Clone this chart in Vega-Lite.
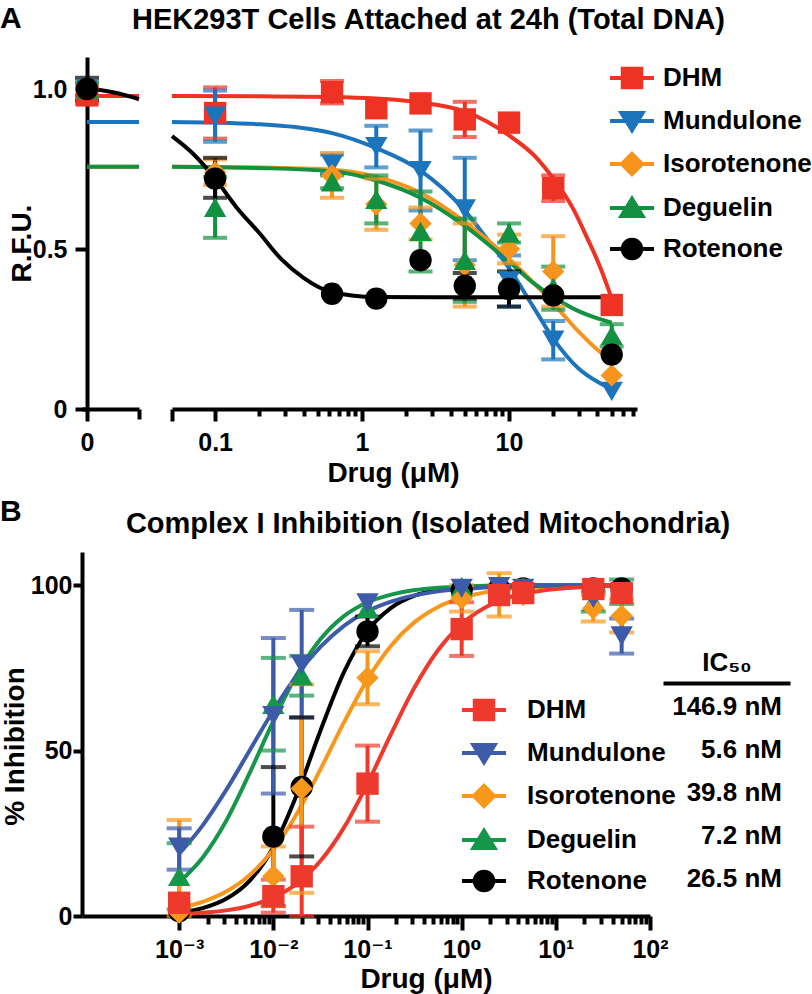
{
"$schema": "https://vega.github.io/schema/vega-lite/v6.json",
"autosize": {"type": "none"},
"padding": {"left": 82, "top": 57, "right": 730, "bottom": 937},
"background": "white",
"config": {
  "view": {"stroke": null},
  "font": "Liberation Sans",
  "axis": {"domainColor": "black", "domainWidth": 4, "tickColor": "black", "tickWidth": 4, "labelFont": "Liberation Sans, DejaVu Sans", "labelFontSize": 25, "labelFontWeight": "bold", "labelColor": "black", "titleFont": "Liberation Sans", "titleFontSize": 28, "titleFontWeight": "bold", "titleColor": "black", "grid": false, "labelFlush": false, "labelOverlap": false},
  "title": {"font": "Liberation Sans", "fontSize": 29, "fontWeight": "bold", "color": "black"}
},
"datasets": {
  "ptsA": [
    {"drug":"DHM","conc":0,"y":0.98,"lo":0.955,"hi":1.005},
    {"drug":"Mundulone","conc":0,"y":1.0,"lo":0.98,"hi":1.02},
    {"drug":"Isorotenone","conc":0,"y":1.0,"lo":0.98,"hi":1.02},
    {"drug":"Deguelin","conc":0,"y":1.0,"lo":0.98,"hi":1.02},
    {"drug":"Rotenone","conc":0,"y":1.0,"lo":0.965,"hi":1.035},
    {"drug":"DHM","conc":0.1,"y":0.925,"lo":0.845,"hi":1.005},
    {"drug":"Mundulone","conc":0.1,"y":0.915,"lo":0.835,"hi":0.995},
    {"drug":"Isorotenone","conc":0.1,"y":0.74,"lo":0.70,"hi":0.78},
    {"drug":"Deguelin","conc":0.1,"y":0.63,"lo":0.535,"hi":0.725},
    {"drug":"Rotenone","conc":0.1,"y":0.72,"lo":0.66,"hi":0.785},
    {"drug":"DHM","conc":0.625,"y":0.99,"lo":0.955,"hi":1.025},
    {"drug":"Mundulone","conc":0.625,"y":0.765,"lo":0.735,"hi":0.795},
    {"drug":"Isorotenone","conc":0.625,"y":0.73,"lo":0.66,"hi":0.80},
    {"drug":"Deguelin","conc":0.625,"y":0.71,"lo":0.69,"hi":0.73},
    {"drug":"Rotenone","conc":0.625,"y":0.36,"lo":0.36,"hi":0.36},
    {"drug":"DHM","conc":1.25,"y":0.94,"lo":0.94,"hi":0.94},
    {"drug":"Mundulone","conc":1.25,"y":0.82,"lo":0.755,"hi":0.885},
    {"drug":"Isorotenone","conc":1.25,"y":0.64,"lo":0.56,"hi":0.72},
    {"drug":"Deguelin","conc":1.25,"y":0.655,"lo":0.58,"hi":0.73},
    {"drug":"Rotenone","conc":1.25,"y":0.345,"lo":0.345,"hi":0.345},
    {"drug":"DHM","conc":2.5,"y":0.955,"lo":0.955,"hi":0.955},
    {"drug":"Mundulone","conc":2.5,"y":0.745,"lo":0.62,"hi":0.87},
    {"drug":"Isorotenone","conc":2.5,"y":0.58,"lo":0.53,"hi":0.63},
    {"drug":"Deguelin","conc":2.5,"y":0.555,"lo":0.43,"hi":0.68},
    {"drug":"Rotenone","conc":2.5,"y":0.465,"lo":0.465,"hi":0.465},
    {"drug":"DHM","conc":5,"y":0.905,"lo":0.85,"hi":0.96},
    {"drug":"Mundulone","conc":5,"y":0.625,"lo":0.465,"hi":0.785},
    {"drug":"Isorotenone","conc":5,"y":0.45,"lo":0.32,"hi":0.58},
    {"drug":"Deguelin","conc":5,"y":0.465,"lo":0.335,"hi":0.595},
    {"drug":"Rotenone","conc":5,"y":0.385,"lo":0.345,"hi":0.425},
    {"drug":"DHM","conc":10,"y":0.895,"lo":0.895,"hi":0.895},
    {"drug":"Mundulone","conc":10,"y":0.40,"lo":0.32,"hi":0.48},
    {"drug":"Isorotenone","conc":10,"y":0.50,"lo":0.455,"hi":0.545},
    {"drug":"Deguelin","conc":10,"y":0.55,"lo":0.52,"hi":0.58},
    {"drug":"Rotenone","conc":10,"y":0.375,"lo":0.32,"hi":0.43},
    {"drug":"DHM","conc":20,"y":0.69,"lo":0.65,"hi":0.73},
    {"drug":"Mundulone","conc":20,"y":0.215,"lo":0.155,"hi":0.275},
    {"drug":"Isorotenone","conc":20,"y":0.43,"lo":0.32,"hi":0.54},
    {"drug":"Deguelin","conc":20,"y":0.38,"lo":0.31,"hi":0.445},
    {"drug":"Rotenone","conc":20,"y":0.355,"lo":0.355,"hi":0.355},
    {"drug":"DHM","conc":50,"y":0.325,"lo":0.325,"hi":0.325},
    {"drug":"Mundulone","conc":50,"y":0.055,"lo":0.055,"hi":0.055},
    {"drug":"Isorotenone","conc":50,"y":0.105,"lo":0.105,"hi":0.105},
    {"drug":"Deguelin","conc":50,"y":0.23,"lo":0.195,"hi":0.265},
    {"drug":"Rotenone","conc":50,"y":0.17,"lo":0.17,"hi":0.17}
  ],
  "curveA0": [
    {"drug":"DHM","conc":0,"y":0.978},{"drug":"DHM","conc":0.05,"y":0.978},
    {"drug":"Mundulone","conc":0,"y":0.897},{"drug":"Mundulone","conc":0.05,"y":0.897},
    {"drug":"Isorotenone","conc":0,"y":0.757},{"drug":"Isorotenone","conc":0.05,"y":0.757},
    {"drug":"Deguelin","conc":0,"y":0.757},{"drug":"Deguelin","conc":0.05,"y":0.757},
    {"drug":"Rotenone","conc":0,"y":1.0},{"drug":"Rotenone","conc":0.0125,"y":0.997},{"drug":"Rotenone","conc":0.025,"y":0.99},{"drug":"Rotenone","conc":0.0375,"y":0.98},{"drug":"Rotenone","conc":0.05,"y":0.968}
  ],
  "curveA": [
    {"drug":"DHM","conc":0.0509,"y":0.978},{"drug":"DHM","conc":0.2,"y":0.977},{"drug":"DHM","conc":0.625,"y":0.975},{"drug":"DHM","conc":1.25,"y":0.97},{"drug":"DHM","conc":2.5,"y":0.958},{"drug":"DHM","conc":5,"y":0.93},{"drug":"DHM","conc":10,"y":0.855},{"drug":"DHM","conc":15,"y":0.79},{"drug":"DHM","conc":20,"y":0.72},{"drug":"DHM","conc":27,"y":0.63},{"drug":"DHM","conc":34,"y":0.535},{"drug":"DHM","conc":42,"y":0.44},{"drug":"DHM","conc":50,"y":0.345},
    {"drug":"Mundulone","conc":0.0509,"y":0.897},{"drug":"Mundulone","conc":0.1,"y":0.895},{"drug":"Mundulone","conc":0.2,"y":0.89},{"drug":"Mundulone","conc":0.35,"y":0.881},{"drug":"Mundulone","conc":0.625,"y":0.862},{"drug":"Mundulone","conc":1.25,"y":0.815},{"drug":"Mundulone","conc":2.5,"y":0.745},{"drug":"Mundulone","conc":5,"y":0.62},{"drug":"Mundulone","conc":7,"y":0.535},{"drug":"Mundulone","conc":10,"y":0.44},{"drug":"Mundulone","conc":14.6,"y":0.32},{"drug":"Mundulone","conc":20,"y":0.22},{"drug":"Mundulone","conc":30,"y":0.125},{"drug":"Mundulone","conc":40,"y":0.085},{"drug":"Mundulone","conc":50,"y":0.062},
    {"drug":"Isorotenone","conc":0.0509,"y":0.757},{"drug":"Isorotenone","conc":0.2,"y":0.755},{"drug":"Isorotenone","conc":0.625,"y":0.748},{"drug":"Isorotenone","conc":1.25,"y":0.726},{"drug":"Isorotenone","conc":2.5,"y":0.675},{"drug":"Isorotenone","conc":5,"y":0.585},{"drug":"Isorotenone","conc":10,"y":0.47},{"drug":"Isorotenone","conc":15,"y":0.39},{"drug":"Isorotenone","conc":20,"y":0.33},{"drug":"Isorotenone","conc":30,"y":0.24},{"drug":"Isorotenone","conc":40,"y":0.185},{"drug":"Isorotenone","conc":50,"y":0.15},
    {"drug":"Deguelin","conc":0.0509,"y":0.757},{"drug":"Deguelin","conc":0.2,"y":0.753},{"drug":"Deguelin","conc":0.625,"y":0.743},{"drug":"Deguelin","conc":1.25,"y":0.714},{"drug":"Deguelin","conc":2.5,"y":0.66},{"drug":"Deguelin","conc":5,"y":0.572},{"drug":"Deguelin","conc":10,"y":0.46},{"drug":"Deguelin","conc":15,"y":0.39},{"drug":"Deguelin","conc":20,"y":0.35},{"drug":"Deguelin","conc":30,"y":0.305},{"drug":"Deguelin","conc":40,"y":0.283},{"drug":"Deguelin","conc":50,"y":0.27},
    {"drug":"Rotenone","conc":0.0509,"y":0.853},{"drug":"Rotenone","conc":0.07,"y":0.80},{"drug":"Rotenone","conc":0.1,"y":0.72},{"drug":"Rotenone","conc":0.14,"y":0.63},{"drug":"Rotenone","conc":0.2,"y":0.55},{"drug":"Rotenone","conc":0.28,"y":0.47},{"drug":"Rotenone","conc":0.4,"y":0.41},{"drug":"Rotenone","conc":0.625,"y":0.365},{"drug":"Rotenone","conc":1.25,"y":0.35},{"drug":"Rotenone","conc":5,"y":0.349},{"drug":"Rotenone","conc":50,"y":0.349}
  ],
  "ptsB": [
    {"drug":"Rotenone","conc":0.001,"y":1.5,"lo":1.5,"hi":1.5},
    {"drug":"Deguelin","conc":0.001,"y":12,"lo":2,"hi":22},
    {"drug":"Isorotenone","conc":0.001,"y":1,"lo":0,"hi":29},
    {"drug":"Mundulone","conc":0.001,"y":20.8,"lo":14,"hi":26.5},
    {"drug":"DHM","conc":0.001,"y":4,"lo":4,"hi":4},
    {"drug":"Rotenone","conc":0.01,"y":24,"lo":3,"hi":45},
    {"drug":"Deguelin","conc":0.01,"y":64,"lo":50,"hi":78},
    {"drug":"Isorotenone","conc":0.01,"y":12,"lo":3,"hi":21},
    {"drug":"Mundulone","conc":0.01,"y":60.5,"lo":37,"hi":84},
    {"drug":"DHM","conc":0.01,"y":6,"lo":1,"hi":11},
    {"drug":"Rotenone","conc":0.02,"y":39,"lo":18,"hi":60},
    {"drug":"Deguelin","conc":0.02,"y":72.6,"lo":66.6,"hi":78.6},
    {"drug":"Isorotenone","conc":0.02,"y":38.5,"lo":7,"hi":70},
    {"drug":"Mundulone","conc":0.02,"y":76,"lo":60,"hi":92.5},
    {"drug":"DHM","conc":0.02,"y":12,"lo":0,"hi":27},
    {"drug":"Rotenone","conc":0.1,"y":86,"lo":81.5,"hi":90.5},
    {"drug":"Deguelin","conc":0.1,"y":93,"lo":93,"hi":93},
    {"drug":"Isorotenone","conc":0.1,"y":72,"lo":64,"hi":80},
    {"drug":"Mundulone","conc":0.1,"y":94.6,"lo":94.6,"hi":94.6},
    {"drug":"DHM","conc":0.1,"y":40,"lo":28.5,"hi":51.5},
    {"drug":"Rotenone","conc":1,"y":98.5,"lo":98.5,"hi":98.5},
    {"drug":"Deguelin","conc":1,"y":99.5,"lo":99.5,"hi":99.5},
    {"drug":"Isorotenone","conc":1,"y":96,"lo":92,"hi":100},
    {"drug":"Mundulone","conc":1,"y":99,"lo":99,"hi":99},
    {"drug":"DHM","conc":1,"y":86.7,"lo":78.6,"hi":94.8},
    {"drug":"Rotenone","conc":2.5,"y":99,"lo":99,"hi":99},
    {"drug":"Deguelin","conc":2.5,"y":99.5,"lo":99.5,"hi":99.5},
    {"drug":"Isorotenone","conc":2.5,"y":97,"lo":90.5,"hi":103.6},
    {"drug":"Mundulone","conc":2.5,"y":99.5,"lo":99.5,"hi":99.5},
    {"drug":"DHM","conc":2.5,"y":97,"lo":97,"hi":97},
    {"drug":"Rotenone","conc":4.5,"y":99,"lo":99,"hi":99},
    {"drug":"Deguelin","conc":4.5,"y":99.5,"lo":99.5,"hi":99.5},
    {"drug":"Isorotenone","conc":4.5,"y":97,"lo":97,"hi":97},
    {"drug":"Mundulone","conc":4.5,"y":99,"lo":99,"hi":99},
    {"drug":"DHM","conc":4.5,"y":97.6,"lo":97.6,"hi":97.6},
    {"drug":"Rotenone","conc":25,"y":99,"lo":99,"hi":99},
    {"drug":"Deguelin","conc":25,"y":95,"lo":92,"hi":98},
    {"drug":"Isorotenone","conc":25,"y":93,"lo":89,"hi":97},
    {"drug":"Mundulone","conc":25,"y":96,"lo":96,"hi":96},
    {"drug":"DHM","conc":25,"y":98.8,"lo":98.8,"hi":98.8},
    {"drug":"Rotenone","conc":50,"y":99,"lo":99,"hi":99},
    {"drug":"Deguelin","conc":50,"y":98,"lo":94.3,"hi":101.7},
    {"drug":"Isorotenone","conc":50,"y":90.7,"lo":85.7,"hi":95.7},
    {"drug":"Mundulone","conc":50,"y":84.6,"lo":79.3,"hi":89.9},
    {"drug":"DHM","conc":50,"y":97.6,"lo":97.6,"hi":97.6}
  ],
  "curveB": [
    {"drug":"Rotenone","conc":0.001,"y":1.1},{"drug":"Rotenone","conc":0.001778,"y":2.4},{"drug":"Rotenone","conc":0.003162,"y":5.2},{"drug":"Rotenone","conc":0.005623,"y":10.7},{"drug":"Rotenone","conc":0.01,"y":20.8},{"drug":"Rotenone","conc":0.01778,"y":36.7},{"drug":"Rotenone","conc":0.03162,"y":56.0},{"drug":"Rotenone","conc":0.05623,"y":73.7},{"drug":"Rotenone","conc":0.1,"y":86.1},{"drug":"Rotenone","conc":0.1778,"y":93.1},{"drug":"Rotenone","conc":0.3162,"y":96.8},{"drug":"Rotenone","conc":0.5623,"y":98.5},{"drug":"Rotenone","conc":1,"y":99.3},{"drug":"Rotenone","conc":1.778,"y":99.7},{"drug":"Rotenone","conc":3.162,"y":99.9},{"drug":"Rotenone","conc":10,"y":100},{"drug":"Rotenone","conc":50,"y":100},
    {"drug":"Deguelin","conc":0.001,"y":10.2},{"drug":"Deguelin","conc":0.001778,"y":17.7},{"drug":"Deguelin","conc":0.003162,"y":28.8},{"drug":"Deguelin","conc":0.005623,"y":43.3},{"drug":"Deguelin","conc":0.01,"y":58.9},{"drug":"Deguelin","conc":0.01778,"y":73.0},{"drug":"Deguelin","conc":0.03162,"y":83.6},{"drug":"Deguelin","conc":0.05623,"y":90.6},{"drug":"Deguelin","conc":0.1,"y":94.8},{"drug":"Deguelin","conc":0.1778,"y":97.1},{"drug":"Deguelin","conc":0.3162,"y":98.5},{"drug":"Deguelin","conc":0.5623,"y":99.2},{"drug":"Deguelin","conc":1,"y":99.6},{"drug":"Deguelin","conc":1.778,"y":99.8},{"drug":"Deguelin","conc":3.162,"y":99.9},{"drug":"Deguelin","conc":10,"y":100},{"drug":"Deguelin","conc":50,"y":100},
    {"drug":"Isorotenone","conc":0.001,"y":2.5},{"drug":"Isorotenone","conc":0.001778,"y":4.3},{"drug":"Isorotenone","conc":0.003162,"y":7.4},{"drug":"Isorotenone","conc":0.005623,"y":12.4},{"drug":"Isorotenone","conc":0.01,"y":20.1},{"drug":"Isorotenone","conc":0.01778,"y":30.9},{"drug":"Isorotenone","conc":0.03162,"y":44.3},{"drug":"Isorotenone","conc":0.05623,"y":58.5},{"drug":"Isorotenone","conc":0.1,"y":71.5},{"drug":"Isorotenone","conc":0.1778,"y":81.7},{"drug":"Isorotenone","conc":0.3162,"y":88.8},{"drug":"Isorotenone","conc":0.5623,"y":93.4},{"drug":"Isorotenone","conc":1,"y":96.2},{"drug":"Isorotenone","conc":1.778,"y":97.8},{"drug":"Isorotenone","conc":3.162,"y":98.8},{"drug":"Isorotenone","conc":10,"y":99.6},{"drug":"Isorotenone","conc":50,"y":99.9},
    {"drug":"Mundulone","conc":0.001,"y":18.8},{"drug":"Mundulone","conc":0.001778,"y":27.4},{"drug":"Mundulone","conc":0.003162,"y":38.1},{"drug":"Mundulone","conc":0.005623,"y":50.1},{"drug":"Mundulone","conc":0.01,"y":62.1},{"drug":"Mundulone","conc":0.01778,"y":72.8},{"drug":"Mundulone","conc":0.03162,"y":81.3},{"drug":"Mundulone","conc":0.05623,"y":87.7},{"drug":"Mundulone","conc":0.1,"y":92.1},{"drug":"Mundulone","conc":0.1778,"y":95.0},{"drug":"Mundulone","conc":0.3162,"y":96.9},{"drug":"Mundulone","conc":0.5623,"y":98.1},{"drug":"Mundulone","conc":1,"y":98.8},{"drug":"Mundulone","conc":1.778,"y":99.3},{"drug":"Mundulone","conc":3.162,"y":99.5},{"drug":"Mundulone","conc":10,"y":99.8},{"drug":"Mundulone","conc":50,"y":99.9},
    {"drug":"DHM","conc":0.001,"y":0.5},{"drug":"DHM","conc":0.001778,"y":1.0},{"drug":"DHM","conc":0.003162,"y":1.7},{"drug":"DHM","conc":0.005623,"y":3.1},{"drug":"DHM","conc":0.01,"y":5.6},{"drug":"DHM","conc":0.01778,"y":9.8},{"drug":"DHM","conc":0.03162,"y":16.6},{"drug":"DHM","conc":0.05623,"y":26.7},{"drug":"DHM","conc":0.1,"y":40.0},{"drug":"DHM","conc":0.1778,"y":55.0},{"drug":"DHM","conc":0.3162,"y":69.1},{"drug":"DHM","conc":0.5623,"y":80.4},{"drug":"DHM","conc":1,"y":88.2},{"drug":"DHM","conc":1.778,"y":93.2},{"drug":"DHM","conc":3.162,"y":96.2},{"drug":"DHM","conc":10,"y":98.8},{"drug":"DHM","conc":50,"y":99.8}
  ],
  "ic50": [
    {"drug":"DHM","ic50":"146.9 nM"},
    {"drug":"Mundulone","ic50":"5.6 nM"},
    {"drug":"Isorotenone","ic50":"39.8 nM"},
    {"drug":"Deguelin","ic50":"7.2 nM"},
    {"drug":"Rotenone","ic50":"26.5 nM"}
  ]
},
"vconcat": [
  {
    "hconcat": [
      {
        "width": 57, "height": 352,
        "title": {"text": "A", "anchor": "start", "frame": "group", "dx": -82, "fontSize": 30, "offset": -1, "baseline": "alphabetic"},
        "encoding": {
          "x": {"field": "conc", "type": "quantitative", "scale": {"domain": [-0.0048, 0.05], "nice": false, "zero": false},
                "axis": {"values": [0, 0.05], "labelExpr": "datum.value == 0 ? '0' : ''", "tickSize": {"condition": {"test": "datum.value == 0", "value": 12}, "value": 10}, "labelPadding": 29, "labelBaseline": "alphabetic", "title": null}},
          "color": {"field": "drug", "type": "nominal", "scale": {"domain": ["DHM","Mundulone","Isorotenone","Deguelin","Rotenone"], "range": ["#EE3224","#1C75BC","#F7941D","#139140","#000000"]}, "legend": null}
        },
        "layer": [
          {"data": {"name": "curveA0"}, "mark": {"type": "line", "strokeWidth": 4, "interpolate": "monotone"},
           "encoding": {"y": {"field": "y", "type": "quantitative", "title": "R.F.U.", "scale": {"domain": [0, 1.1], "nice": false},
             "axis": {"values": [0, 0.5, 1], "labelExpr": "datum.value == 0 ? '0' : format(datum.value, '.1f')", "offset": -5, "tickSize": 12, "labelPadding": 8, "titleX": -65, "titleY": 186, "titleBaseline": "middle", "titleAlign": "center", "titleAngle": -90}}}},
          {"data": {"name": "ptsA"}, "transform": [{"filter": "datum.conc == 0 && datum.hi > datum.lo"}], "mark": {"type": "rule", "strokeWidth": 4},
           "encoding": {"y": {"field": "lo", "type": "quantitative", "title": "R.F.U.", "scale": {"domain": [0, 1.1], "nice": false}}, "y2": {"field": "hi"}}},
          {"data": {"name": "ptsA"}, "transform": [{"filter": "datum.conc == 0 && datum.hi > datum.lo"}], "mark": {"type": "tick", "orient": "horizontal", "size": 24, "thickness": 4},
           "encoding": {"y": {"field": "lo", "type": "quantitative", "title": "R.F.U.", "scale": {"domain": [0, 1.1], "nice": false}}}},
          {"data": {"name": "ptsA"}, "transform": [{"filter": "datum.conc == 0 && datum.hi > datum.lo"}], "mark": {"type": "tick", "orient": "horizontal", "size": 24, "thickness": 4},
           "encoding": {"y": {"field": "hi", "type": "quantitative", "title": "R.F.U.", "scale": {"domain": [0, 1.1], "nice": false}}}},
          {"data": {"name": "ptsA"}, "transform": [{"filter": "datum.conc == 0"}], "mark": {"type": "point", "filled": true, "size": 500, "opacity": 1},
           "encoding": {"y": {"field": "y", "type": "quantitative", "title": "R.F.U.", "scale": {"domain": [0, 1.1], "nice": false}},
             "shape": {"field": "drug", "type": "nominal", "scale": {"domain": ["DHM","Mundulone","Isorotenone","Deguelin","Rotenone"], "range": ["square","triangle-down","diamond","triangle-up","circle"]}, "legend": null}}}
        ]
      },
      {
        "width": 465, "height": 352,
        "title": {"text": "HEK293T Cells Attached at 24h (Total DNA)", "anchor": "middle", "frame": "group", "dx": 24, "offset": -4, "baseline": "alphabetic"},
        "encoding": {
          "x": {"field": "conc", "type": "quantitative", "scale": {"type": "log", "domain": [0.0509, 74.3], "nice": false},
                "axis": {"values": [0.0509, 0.1,0.2,0.3,0.4,0.5,0.6,0.7,0.8,0.9,1,2,3,4,5,6,7,8,9,10,20,30,40,50,60,70],
                  "labelExpr": "datum.value == 0.1 ? '0.1' : datum.value == 1 ? '1' : datum.value == 10 ? '10' : ''",
                  "tickSize": {"condition": {"test": "datum.value == 0.1 || datum.value == 1 || datum.value == 10 || datum.value == 0.0509", "value": 12}, "value": 7},
                  "labelPadding": 29, "labelBaseline": "alphabetic",
                  "title": "Drug (μM)", "titleX": 221, "titleY": 72, "titleBaseline": "alphabetic", "titleAlign": "center"}},
          "color": {"field": "drug", "type": "nominal", "scale": {"domain": ["DHM","Mundulone","Isorotenone","Deguelin","Rotenone"], "range": ["#EE3224","#1C75BC","#F7941D","#139140","#000000"]},
            "legend": {"orient": "none", "legendX": 436, "legendY": -3, "title": null, "symbolSize": 1936, "labelFont": "Liberation Sans", "labelFontSize": 26, "labelFontWeight": "bold", "labelColor": "black", "labelOffset": 7, "rowPadding": 1, "labelLimit": 400,
              "encode": {"symbols": {"update": {
                "shape": {"signal": "datum.value === 'DHM' ? 'M-1,0H1M-0.42,-0.42H0.42V0.42H-0.42Z' : datum.value === 'Mundulone' ? 'M-1,0H1M-0.48,-0.36H0.48L0,0.42Z' : datum.value === 'Isorotenone' ? 'M-1,0H1M0,-0.46L0.46,0L0,0.46L-0.46,0Z' : datum.value === 'Deguelin' ? 'M-1,0H1M-0.48,0.36H0.48L0,-0.42Z' : 'M-1,0H1M0.42,0A0.42,0.42,0,1,1,-0.42,0A0.42,0.42,0,1,1,0.42,0Z'"},
                "fill": {"signal": "datum.value === 'DHM' ? '#EE3224' : datum.value === 'Mundulone' ? '#1C75BC' : datum.value === 'Isorotenone' ? '#F7941D' : datum.value === 'Deguelin' ? '#0F7A3E' : '#000000'"},
                "stroke": {"signal": "datum.value === 'DHM' ? '#EE3224' : datum.value === 'Mundulone' ? '#1C75BC' : datum.value === 'Isorotenone' ? '#F7941D' : datum.value === 'Deguelin' ? '#0F7A3E' : '#000000'"},
                "strokeWidth": {"value": 4}, "opacity": {"value": 1}, "fillOpacity": {"value": 1}, "strokeOpacity": {"value": 1}}}}}}
        },
        "layer": [
          {"data": {"name": "curveA"}, "mark": {"type": "line", "strokeWidth": 4, "interpolate": "monotone"},
           "encoding": {"y": {"field": "y", "type": "quantitative", "scale": {"domain": [0, 1.1], "nice": false}, "axis": null}}},
          {"data": {"name": "ptsA"}, "transform": [{"filter": "datum.conc > 0 && datum.hi > datum.lo"}], "mark": {"type": "rule", "strokeWidth": 4},
           "encoding": {"y": {"field": "lo", "type": "quantitative", "scale": {"domain": [0, 1.1], "nice": false}, "axis": null}, "y2": {"field": "hi"}}},
          {"data": {"name": "ptsA"}, "transform": [{"filter": "datum.conc > 0 && datum.hi > datum.lo"}], "mark": {"type": "tick", "orient": "horizontal", "size": 24, "thickness": 4},
           "encoding": {"y": {"field": "lo", "type": "quantitative", "scale": {"domain": [0, 1.1], "nice": false}, "axis": null}}},
          {"data": {"name": "ptsA"}, "transform": [{"filter": "datum.conc > 0 && datum.hi > datum.lo"}], "mark": {"type": "tick", "orient": "horizontal", "size": 24, "thickness": 4},
           "encoding": {"y": {"field": "hi", "type": "quantitative", "scale": {"domain": [0, 1.1], "nice": false}, "axis": null}}},
          {"data": {"name": "ptsA"}, "transform": [{"filter": "datum.conc > 0"}], "mark": {"type": "point", "filled": true, "size": 500, "opacity": 1},
           "encoding": {"y": {"field": "y", "type": "quantitative", "scale": {"domain": [0, 1.1], "nice": false}, "axis": null},
             "shape": {"field": "drug", "type": "nominal", "scale": {"domain": ["DHM","Mundulone","Isorotenone","Deguelin","Rotenone"], "range": ["square","triangle-down","diamond","triangle-up","circle"]}, "legend": null}}}
        ]
      }
    ],
    "spacing": 33,
    "bounds": "flush",
    "resolve": {"scale": {"x": "independent", "y": "independent", "color": "independent"}, "legend": {"color": "independent"}}
  },
  {
    "hconcat": [
      {
        "width": 568, "height": 364,
        "title": {"text": "Complex I Inhibition (Isolated Mitochondria)", "anchor": "middle", "frame": "group", "dx": 62, "offset": -10, "baseline": "alphabetic"},
        "encoding": {
          "x": {"field": "conc", "type": "quantitative", "scale": {"type": "log", "domain": [0.0000929, 100], "nice": false},
                "axis": {"values": [0.001,0.002,0.003,0.004,0.005,0.006,0.007,0.008,0.009,0.01,0.02,0.03,0.04,0.05,0.06,0.07,0.08,0.09,0.1,0.2,0.3,0.4,0.5,0.6,0.7,0.8,0.9,1,2,3,4,5,6,7,8,9,10,20,30,40,50,60,70,80,90,100],
                  "labelExpr": "datum.value == 0.001 ? '10⁻³' : datum.value == 0.01 ? '10⁻²' : datum.value == 0.1 ? '10⁻¹' : datum.value == 1 ? '10⁰' : datum.value == 10 ? '10¹' : datum.value == 100 ? '10²' : ''",
                  "tickSize": {"condition": {"test": "indexof([0.001,0.01,0.1,1,10,100], datum.value) >= 0", "value": 14}, "value": 8},
                  "labelPadding": 27, "labelBaseline": "alphabetic",
                  "title": "Drug (μM)", "titleX": 344, "titleY": 71, "titleBaseline": "alphabetic", "titleAlign": "center"}},
          "color": {"field": "drug", "type": "nominal", "scale": {"domain": ["DHM","Mundulone","Isorotenone","Deguelin","Rotenone"], "range": ["#EE3A2C","#3D5BA9","#F7981D","#16964A","#000000"]},
            "legend": {"orient": "none", "legendX": 378, "legendY": 134, "title": null, "symbolSize": 1936, "labelFont": "Liberation Sans", "labelFontSize": 26, "labelFontWeight": "bold", "labelColor": "black", "labelOffset": 19, "rowPadding": 1, "labelLimit": 400,
              "encode": {"symbols": {"update": {
                "shape": {"signal": "datum.value === 'DHM' ? 'M-1,0H1M-0.42,-0.42H0.42V0.42H-0.42Z' : datum.value === 'Mundulone' ? 'M-1,0H1M-0.48,-0.36H0.48L0,0.42Z' : datum.value === 'Isorotenone' ? 'M-1,0H1M0,-0.46L0.46,0L0,0.46L-0.46,0Z' : datum.value === 'Deguelin' ? 'M-1,0H1M-0.48,0.36H0.48L0,-0.42Z' : 'M-1,0H1M0.42,0A0.42,0.42,0,1,1,-0.42,0A0.42,0.42,0,1,1,0.42,0Z'"},
                "fill": {"signal": "datum.value === 'DHM' ? '#EE3A2C' : datum.value === 'Mundulone' ? '#3D5BA9' : datum.value === 'Isorotenone' ? '#F7981D' : datum.value === 'Deguelin' ? '#0E7C42' : '#000000'"},
                "stroke": {"signal": "datum.value === 'DHM' ? '#EE3A2C' : datum.value === 'Mundulone' ? '#3D5BA9' : datum.value === 'Isorotenone' ? '#F7981D' : datum.value === 'Deguelin' ? '#0E7C42' : '#000000'"},
                "strokeWidth": {"value": 4}, "opacity": {"value": 1}, "fillOpacity": {"value": 1}, "strokeOpacity": {"value": 1}}}}}}
        },
        "layer": [
          {"data": {"name": "curveB"}, "mark": {"type": "line", "strokeWidth": 4, "interpolate": "monotone"},
           "encoding": {"y": {"field": "y", "type": "quantitative", "title": "% Inhibition", "scale": {"domain": [0, 110], "nice": false},
             "axis": {"values": [0, 50, 100], "tickSize": 9, "labelPadding": 1, "titleX": -67, "titleY": 194, "titleBaseline": "middle", "titleAlign": "center", "titleAngle": -90}}}},
          {"data": {"name": "ptsB"}, "transform": [{"filter": "datum.hi > datum.lo"}], "mark": {"type": "rule", "strokeWidth": 4},
           "encoding": {"y": {"field": "lo", "type": "quantitative", "title": "% Inhibition", "scale": {"domain": [0, 110], "nice": false}}, "y2": {"field": "hi"}}},
          {"data": {"name": "ptsB"}, "transform": [{"filter": "datum.hi > datum.lo"}], "mark": {"type": "tick", "orient": "horizontal", "size": 25, "thickness": 4},
           "encoding": {"y": {"field": "lo", "type": "quantitative", "title": "% Inhibition", "scale": {"domain": [0, 110], "nice": false}}}},
          {"data": {"name": "ptsB"}, "transform": [{"filter": "datum.hi > datum.lo"}], "mark": {"type": "tick", "orient": "horizontal", "size": 25, "thickness": 4},
           "encoding": {"y": {"field": "hi", "type": "quantitative", "title": "% Inhibition", "scale": {"domain": [0, 110], "nice": false}}}},
          {"data": {"name": "ptsB"}, "mark": {"type": "point", "filled": true, "size": 500, "opacity": 1},
           "encoding": {"y": {"field": "y", "type": "quantitative", "title": "% Inhibition", "scale": {"domain": [0, 110], "nice": false}},
             "shape": {"field": "drug", "type": "nominal", "scale": {"domain": ["DHM","Mundulone","Isorotenone","Deguelin","Rotenone"], "range": ["square","triangle-down","diamond","triangle-up","circle"]}, "legend": null}}}
        ]
      },
      {
        "width": 127, "height": 364,
        "data": {"name": "ic50"},
        "title": {"text": "B", "anchor": "start", "frame": "group", "dx": -663, "fontSize": 30, "offset": 1, "baseline": "alphabetic"},
        "mark": {"type": "text", "align": "right", "baseline": "middle", "fontSize": 26, "fontWeight": "bold", "font": "Liberation Sans", "dx": -8, "color": "black"},
        "encoding": {
          "x": {"datum": 1, "type": "quantitative", "scale": {"domain": [0, 1], "nice": false},
                "axis": {"orient": "top", "offset": -131, "domainWidth": 4, "domainColor": "black", "ticks": false, "labels": false, "title": "IC₅₀", "titleFont": "Liberation Sans, DejaVu Sans", "titleFontSize": 26, "titlePadding": 8}},
          "y": {"field": "drug", "type": "nominal", "scale": {"type": "point", "domain": ["a","b","c","DHM","Mundulone","Isorotenone","Deguelin","Rotenone"], "padding": 0.733, "align": 0.413}, "axis": null},
          "text": {"field": "ic50"}
        }
      }
    ],
    "spacing": 13,
    "bounds": "flush",
    "resolve": {"scale": {"x": "independent", "y": "independent", "color": "independent"}, "legend": {"color": "independent"}}
  }
],
"spacing": 495,
"bounds": "flush",
"resolve": {"scale": {"x": "independent", "y": "independent", "color": "independent", "shape": "independent"}, "legend": {"color": "independent", "shape": "independent"}}
}
